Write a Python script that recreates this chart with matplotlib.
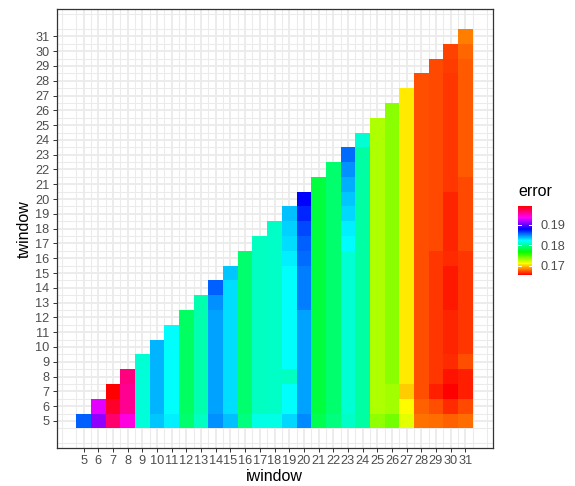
import numpy as np
import matplotlib
matplotlib.use("Agg")
import matplotlib.pyplot as plt
from matplotlib.colors import LinearSegmentedColormap

iwindow = list(range(5, 32))
twindow = list(range(5, 32))

# error per iwindow column, listed from twindow = 5 upwards
err_i05 = [0.1857]
err_i06 = [0.1910, 0.1928]
err_i07 = [0.1966, 0.1980, 0.1990]
err_i08 = [0.1941, 0.1958, 0.1958, 0.1962]
err_i09 = [0.1815, 0.1815, 0.1815, 0.1815, 0.1813]
err_i10 = [0.1835] + [0.1839] * 5
err_i11 = [0.1826] + [0.1823] * 6
err_i12 = [0.1791] + [0.1789] * 7
err_i13 = [0.1809] + [0.1805] * 8
err_i14 = [0.1847] + [0.1843] * 7 + [0.1847, 0.1857]
err_i15 = [0.1837] + [0.1830] * 9 + [0.1835]
err_i16 = [0.1795] + [0.1791] * 11
err_i17 = [0.1817] + [0.1809] * 12
err_i18 = [0.1817] + [0.1811] * 13
err_i19 = [0.1831, 0.1823, 0.1823, 0.1809] + [0.1823] * 7 + [0.1826, 0.1830, 0.1833, 0.1837]
err_i20 = [0.1849] + [0.1843] * 7 + [0.1851] * 3 + [0.1855, 0.1857, 0.1863, 0.1871, 0.1879]
err_i21 = [0.1785] + [0.1781] * 16
err_i22 = [0.1795] + [0.1791] * 17
err_i23 = [0.1811] + [0.1813] * 11 + [0.1824, 0.1826, 0.1831, 0.1835, 0.1841, 0.1847, 0.1855]
err_i24 = [0.1803] * 19 + [0.1813]
err_i25 = [0.1736] + [0.1730] * 20
err_i26 = [0.1743, 0.1732, 0.1732] + [0.1738] * 19
err_i27 = [0.1718, 0.1712, 0.1701] + [0.1707] * 20
err_i28 = [0.1682, 0.1677] + [0.1674] * 22
err_i29 = [0.1680, 0.1674, 0.1663, 0.1669] + [0.1668] * 8 + [0.1672] * 13
err_i30 = ([0.1677, 0.1666, 0.1656, 0.1660, 0.1666] + [0.1664] * 3 + [0.1662] * 3
           + [0.1666] + [0.1665] * 4 + [0.1669] * 8 + [0.1670, 0.1671])
err_i31 = ([0.1680, 0.1672, 0.1663, 0.1663, 0.1674] + [0.1668] * 7 + [0.1672] * 5
           + [0.1676] * 8 + [0.1679, 0.1684])

columns = [err_i05, err_i06, err_i07, err_i08, err_i09, err_i10, err_i11, err_i12,
           err_i13, err_i14, err_i15, err_i16, err_i17, err_i18, err_i19, err_i20,
           err_i21, err_i22, err_i23, err_i24, err_i25, err_i26, err_i27, err_i28,
           err_i29, err_i30, err_i31]

legend_ticks = [0.17, 0.18, 0.19]


def main():
    plt.rcParams["font.family"] = ["Liberation Sans", "DejaVu Sans"]

    # fill the lower triangle grid (twindow <= iwindow)
    z = np.full((len(twindow), len(iwindow)), np.nan)
    for i, col in enumerate(columns):
        for j, v in enumerate(col):
            z[j, i] = v
    z = np.ma.masked_invalid(z)

    cmap = LinearSegmentedColormap.from_list(
        "rainbow_err",
        ["#FF0000", "#FFFF00", "#00FF00", "#00FFFF", "#0000FF", "#FF00FF", "#FF0000"])

    fig = plt.figure(figsize=(5.75, 4.86), dpi=100)
    ax = fig.add_axes([56.5 / 575, 1 - 448.3 / 486, 436 / 575, 439.3 / 486])

    xe = np.arange(len(iwindow) + 1) + iwindow[0] - 0.5
    ye = np.arange(len(twindow) + 1) + twindow[0] - 0.5
    mesh = ax.pcolormesh(xe, ye, z, cmap=cmap, linewidth=0, antialiased=False)

    span = xe[-1] - xe[0]
    ax.set_xlim(xe[0] - 0.05 * span, xe[-1] + 0.05 * span)
    ax.set_ylim(ye[0] - 0.05 * span, ye[-1] + 0.05 * span)

    ax.set_xticks(iwindow)
    ax.set_yticks(twindow)
    ax.set_xticks(np.arange(3.5, 33, 1.0), minor=True)
    ax.set_yticks(np.arange(3.5, 33, 1.0), minor=True)
    ax.set_axisbelow(True)
    ax.grid(which="major", color="#EBEBEB", linewidth=1.3)
    ax.grid(which="minor", color="#EBEBEB", linewidth=0.75)
    ax.tick_params(which="major", length=3, width=0.7, color="#333333",
                   labelsize=9.2, labelcolor="#4D4D4D", pad=2)
    ax.tick_params(which="minor", length=0)
    for s in ax.spines.values():
        s.set_color("#333333")
        s.set_linewidth(0.9)

    ax.set_xlabel("iwindow", fontsize=11.5, labelpad=1.5)
    ax.set_ylabel("twindow", fontsize=11.5, labelpad=2.5)

    # legend colourbar
    cax = fig.add_axes([518 / 575, 1 - 275 / 486, 13.7 / 575, 69 / 486])
    cb = fig.colorbar(mesh, cax=cax)
    cb.outline.set_visible(False)
    cb.set_ticks(legend_ticks)
    cb.set_ticklabels([f"{t:.2f}" for t in legend_ticks])
    cax.tick_params(length=0, pad=6, labelsize=9.2, labelcolor="#4D4D4D")
    for t in legend_ticks:
        cax.axhline(t, 0, 0.2, color="white", linewidth=0.7)
        cax.axhline(t, 0.8, 1, color="white", linewidth=0.7)
    fig.text(518 / 575, 1 - 196 / 486, "error", fontsize=11.5, va="baseline")

    fig.savefig("out.png", dpi=100)


if __name__ == "__main__":
    main()
